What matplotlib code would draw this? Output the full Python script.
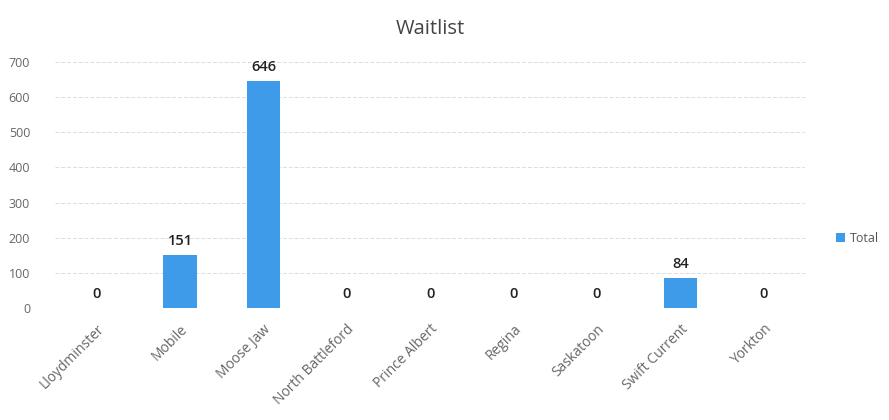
import matplotlib
matplotlib.use("Agg")
import matplotlib.pyplot as plt
import numpy as np

plt.rcParams['font.family'] = ['Open Sans', 'DejaVu Sans']

# waitlist per location
locations = ["Lloydminster", "Mobile", "Moose Jaw", "North Battleford", "Prince Albert",
             "Regina", "Saskatoon", "Swift Current", "Yorkton"]
totals = [0, 151, 646, 0, 0, 0, 0, 84, 0]
yticks = [0, 100, 200, 300, 400, 500, 600, 700]

bar_color = "#3d9be9"

fig = plt.figure(figsize=(8.89, 4.2), dpi=100)
ax = fig.add_axes([0.062, 0.267, 0.844, 0.585])

x = np.arange(len(locations))
bars = ax.bar(x, totals, width=0.4, color=bar_color, label="Total", zorder=3)

for xi, v in zip(x, totals):
    ax.text(xi, v + 20, str(v), ha="center", va="bottom", fontsize=10.5,
            fontweight="semibold", color="#222222")

ax.set_xlim(-0.5, len(locations) - 0.5)
ax.set_ylim(0, 700)
ax.set_yticks(yticks)
ax.set_yticklabels([str(t) for t in yticks])
ax.set_xticks(x)
ax.set_xticklabels(locations, rotation=45, ha="right", rotation_mode="anchor")
ax.tick_params(axis="both", length=0, colors="#666666")
ax.tick_params(axis="y", pad=18, labelsize=9)
ax.tick_params(axis="x", pad=10, labelsize=10)

ax.yaxis.grid(True, color="#dcdcdc", linestyle=(0, (4, 2)), linewidth=0.7, zorder=0)
for s in ax.spines.values():
    s.set_visible(False)

ax.set_title("Waitlist", fontsize=14.5, color="#444444", pad=20)

fig.legend(loc="center left", bbox_to_anchor=(0.928, 0.433), frameon=False,
           fontsize=9, handlelength=0.7, handleheight=0.7, handletextpad=0.4,
           labelcolor="#555555")

fig.savefig("out.png", dpi=100)
plt.close(fig)
